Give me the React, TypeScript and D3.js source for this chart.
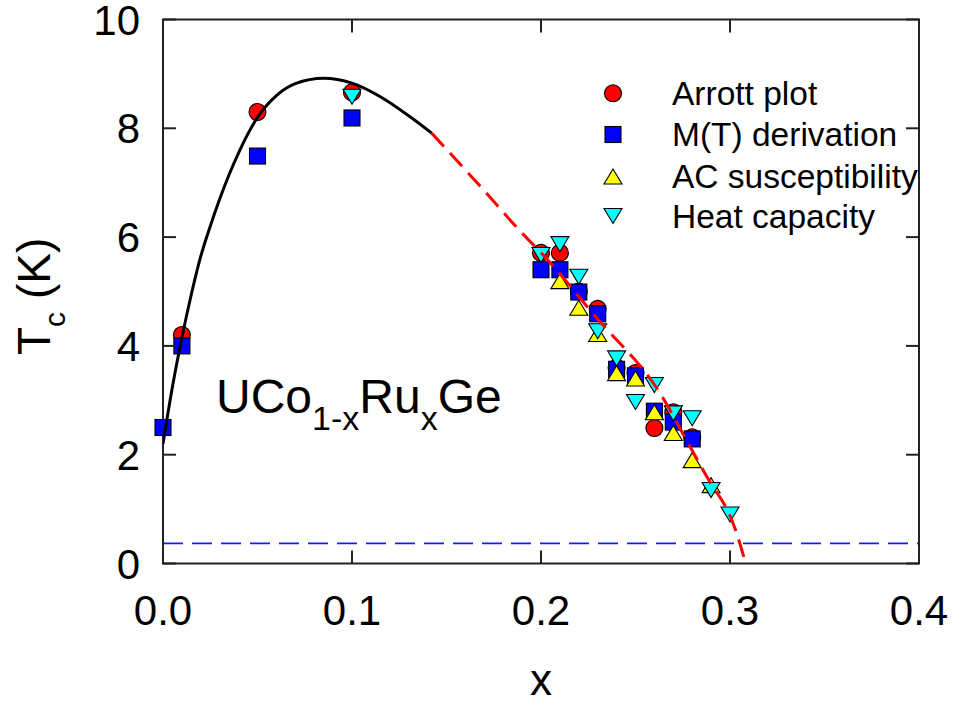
import React from 'react';
import * as d3 from 'd3';

// ---- data ----
const arrottX = [0.01, 0.05, 0.1, 0.2, 0.21, 0.22, 0.23, 0.24, 0.25, 0.26, 0.27, 0.28];
const arrottY = [4.2, 8.3, 8.66, 5.71, 5.71, 5.0, 4.68, 3.6, 3.5, 2.49, 2.78, 2.32];

const mtX = [0, 0.01, 0.05, 0.1, 0.2, 0.21, 0.22, 0.23, 0.24, 0.25, 0.26, 0.27, 0.28];
const mtY = [2.5, 4.0, 7.49, 8.19, 5.4, 5.4, 4.99, 4.59, 3.57, 3.45, 2.8, 2.6, 2.29];

const acX = [0.21, 0.22, 0.23, 0.24, 0.25, 0.26, 0.27, 0.28, 0.29];
const acY = [5.19, 4.7, 4.22, 3.5, 3.4, 2.78, 2.4, 1.9, 1.44];

const heatX = [0.1, 0.2, 0.21, 0.22, 0.23, 0.24, 0.25, 0.26, 0.27, 0.28, 0.29, 0.3];
const heatY = [8.58, 5.67, 5.87, 5.27, 4.27, 3.77, 2.97, 3.28, 2.76, 2.67, 1.35, 0.9];

// fitted curve, solid part
const fitX = [0, 0.005, 0.01, 0.015, 0.02, 0.025, 0.03, 0.035, 0.04, 0.05, 0.06, 0.07, 0.085, 0.1, 0.115, 0.13, 0.1422];
const fitY = [2.2, 3.25, 4.15, 4.95, 5.65, 6.2, 6.7, 7.15, 7.55, 8.2, 8.6, 8.82, 8.92, 8.83, 8.58, 8.23, 7.91];
// fitted curve, dashed extrapolation
const extX = [0.1422, 0.1695, 0.1906, 0.2012, 0.2295, 0.263, 0.2788, 0.2877, 0.3026, 0.3083];
const extY = [7.91, 6.87, 6.05, 5.67, 4.51, 3.13, 2.15, 1.6, 0.65, 0];

const baseLevel = 0.37;

const xTicks = [0, 0.1, 0.2, 0.3, 0.4];
const xTickLabels = ['0.0', '0.1', '0.2', '0.3', '0.4'];
const yTicks = [0, 2, 4, 6, 8, 10];
const legendLabels = ['Arrott plot', 'M(T) derivation', 'AC susceptibility', 'Heat capacity'];

const FONT = "'Liberation Sans', Arial, Helvetica, sans-serif";

type Shape = 'circle' | 'square' | 'up' | 'down';

function Marker({ cx, cy, shape, fill }: { cx: number; cy: number; shape: Shape; fill: string }) {
  const s = { fill, stroke: '#000', strokeWidth: 1.1 };
  if (shape === 'circle') return <circle cx={cx} cy={cy} r={8.5} {...s} />;
  if (shape === 'square') return <rect x={cx - 8} y={cy - 8} width={16} height={16} {...s} />;
  if (shape === 'up')
    return <path d={`M${cx},${cy - 7.5}L${cx + 9},${cy + 7.5}L${cx - 9},${cy + 7.5}Z`} {...s} />;
  return <path d={`M${cx},${cy + 7.5}L${cx + 9},${cy - 7.5}L${cx - 9},${cy - 7.5}Z`} {...s} />;
}

export default function App() {
  const W = 953, H = 704;
  const L = 163, R = 919, T = 19.5, B = 563.5;
  const x = d3.scaleLinear().domain([0, 0.4]).range([L, R]);
  const y = d3.scaleLinear().domain([0, 10]).range([B, T]);

  const line = d3
    .line<[number, number]>()
    .x((d) => x(d[0]))
    .y((d) => y(d[1]))
    .curve(d3.curveMonotoneX);

  const fitPath = line(fitX.map((v, i) => [v, fitY[i]] as [number, number])) || '';
  const extPath = line(extX.map((v, i) => [v, extY[i]] as [number, number])) || '';

  const series: { xs: number[]; ys: number[]; shape: Shape; fill: string }[] = [
    { xs: arrottX, ys: arrottY, shape: 'circle', fill: '#ff0000' },
    { xs: mtX, ys: mtY, shape: 'square', fill: '#0000ff' },
    { xs: acX, ys: acY, shape: 'up', fill: '#ffff00' },
    { xs: heatX, ys: heatY, shape: 'down', fill: '#00ffff' },
  ];

  const legendRowsY = [93.3, 134.5, 176.5, 216];
  const tickLen = 13;

  return (
    <div style={{ position: 'absolute', left: 0, top: 0 }}>
      <svg width={W} height={H} style={{ display: 'block', background: '#fff' }} fontFamily={FONT}>
        <defs>
          <clipPath id="plotClip">
            <rect x={L} y={T} width={R - L} height={B - T} />
          </clipPath>
        </defs>
        <rect x={0} y={0} width={W} height={H} fill="#fff" />

        {/* baseline dashed blue line */}
        <line
          x1={x(0)}
          x2={x(0.4)}
          y1={y(baseLevel)}
          y2={y(baseLevel)}
          stroke="#1a1aff"
          strokeWidth={1.6}
          strokeDasharray="20 9"
        />

        {/* frame */}
        <rect x={L} y={T} width={R - L} height={B - T} fill="none" stroke="#222" strokeWidth={2} />

        {/* markers */}
        <g>
          {series.map((s, si) =>
            s.xs.map((xv, i) => (
              <Marker key={`${si}-${i}`} cx={x(xv)} cy={y(s.ys[i])} shape={s.shape} fill={s.fill} />
            ))
          )}
        </g>

        {/* curves */}
        <g clipPath="url(#plotClip)">
          <path d={fitPath} fill="none" stroke="#000" strokeWidth={3} />
          <path d={extPath} fill="none" stroke="#ff0000" strokeWidth={3} strokeDasharray="18 9" />
        </g>

        {/* ticks */}
        {xTicks.map((t) => (
          <g key={`xt${t}`}>
            <line x1={x(t)} x2={x(t)} y1={B} y2={B - tickLen} stroke="#222" strokeWidth={2} />
            <line x1={x(t)} x2={x(t)} y1={T} y2={T + tickLen} stroke="#222" strokeWidth={2} />
          </g>
        ))}
        {yTicks.map((t) => (
          <g key={`yt${t}`}>
            <line x1={L} x2={L + tickLen} y1={y(t)} y2={y(t)} stroke="#222" strokeWidth={2} />
            <line x1={R} x2={R - tickLen} y1={y(t)} y2={y(t)} stroke="#222" strokeWidth={2} />
          </g>
        ))}

        {/* tick labels */}
        {xTicks.map((t, i) => (
          <text key={`xl${t}`} x={x(t)} y={625} textAnchor="middle" fontSize={42} fill="#000">
            {xTickLabels[i]}
          </text>
        ))}
        {yTicks.map((t) => (
          <text key={`yl${t}`} x={140} y={y(t) + 15} textAnchor="end" fontSize={42} fill="#000">
            {t}
          </text>
        ))}

        {/* axis titles */}
        <text x={x(0.2)} y={695} textAnchor="middle" fontSize={44} fill="#000">
          x
        </text>
        <text transform="translate(50,355) rotate(-90)" textAnchor="start" fontSize={46} fill="#000">
          T
          <tspan fontSize={30} dy={15}>
            c
          </tspan>
          <tspan dy={-15}> (K)</tspan>
        </text>

        {/* compound label */}
        <text x={216} y={413} fontSize={48} fill="#000">
          UCo
          <tspan fontSize={34} dy={17}>
            1-x
          </tspan>
          <tspan dy={-17}>Ru</tspan>
          <tspan fontSize={34} dy={17}>
            x
          </tspan>
          <tspan dy={-17}>Ge</tspan>
        </text>

        {/* legend */}
        {series.map((s, i) => (
          <g key={`lg${i}`}>
            <Marker cx={613} cy={legendRowsY[i]} shape={s.shape} fill={s.fill} />
            <text x={672} y={legendRowsY[i] + 11.5} fontSize={33.5} fill="#000">
              {legendLabels[i]}
            </text>
          </g>
        ))}
      </svg>
    </div>
  );
}
